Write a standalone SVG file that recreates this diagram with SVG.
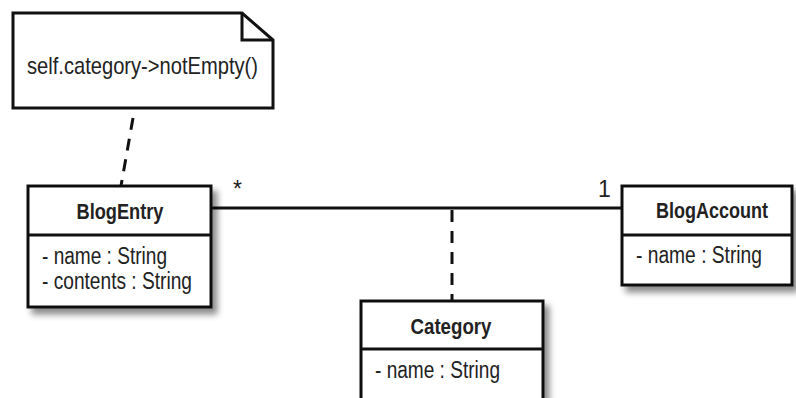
<svg xmlns="http://www.w3.org/2000/svg" width="796" height="398" viewBox="0 0 796 398">
<defs>
<filter id="sh" x="-10%" y="-10%" width="130%" height="140%">
<feDropShadow dx="5" dy="6" stdDeviation="3" flood-color="#000" flood-opacity="0.45"/>
</filter>
<style>
.box{fill:#fff;stroke:#111;stroke-width:3}
.ln{stroke:#111;stroke-width:3;fill:none}
.dash{stroke:#111;stroke-width:3;fill:none;stroke-dasharray:12 9}
.t{font-family:"Liberation Sans Narrow","Liberation Sans",Arial,sans-serif;font-size:23px;fill:#222}
.b{font-weight:bold;text-anchor:middle;font-size:22px}
.n{font-size:24px}
</style>
</defs>
<rect width="796" height="398" fill="#fff"/>
<g id="connectors">
<line class="ln" x1="211" y1="208" x2="622" y2="208"/>
<line class="dash" x1="452" y1="210" x2="452" y2="301"/>
<line class="dash" x1="133" y1="118" x2="121" y2="186"/>
<text class="t" x="233" y="197" font-size="16">*</text>
<text class="t" x="598" y="197" font-size="21">1</text>
</g>
<g id="note">
<path class="box" d="M13,13 H242 L273,40 V108 H13 Z"/>
<path class="ln" d="M242,13 V40 H273"/>
<text class="t n" x="27" y="74" textLength="231" lengthAdjust="spacingAndGlyphs">self.category-&gt;notEmpty()</text>
</g>
<g id="BlogEntry">
<rect class="box" x="28" y="186" width="183" height="121" filter="url(#sh)"/>
<line class="ln" x1="28" y1="235" x2="211" y2="235"/>
<text class="t b" x="120" y="219" textLength="87" lengthAdjust="spacingAndGlyphs">BlogEntry</text>
<text class="t" x="42" y="264" textLength="125" lengthAdjust="spacingAndGlyphs">- name : String</text>
<text class="t" x="42" y="289" textLength="150" lengthAdjust="spacingAndGlyphs">- contents : String</text>
</g>
<g id="BlogAccount">
<rect class="box" x="622" y="186" width="170" height="99" filter="url(#sh)"/>
<line class="ln" x1="622" y1="235" x2="792" y2="235"/>
<text class="t b" x="712" y="218" textLength="112" lengthAdjust="spacingAndGlyphs">BlogAccount</text>
<text class="t" x="636" y="263" textLength="126" lengthAdjust="spacingAndGlyphs">- name : String</text>
</g>
<g id="Category">
<rect class="box" x="361" y="301" width="182" height="110" filter="url(#sh)"/>
<line class="ln" x1="361" y1="349" x2="543" y2="349"/>
<text class="t b" x="451" y="334" textLength="81" lengthAdjust="spacingAndGlyphs">Category</text>
<text class="t" x="375" y="378" textLength="125" lengthAdjust="spacingAndGlyphs">- name : String</text>
</g>
</svg>
